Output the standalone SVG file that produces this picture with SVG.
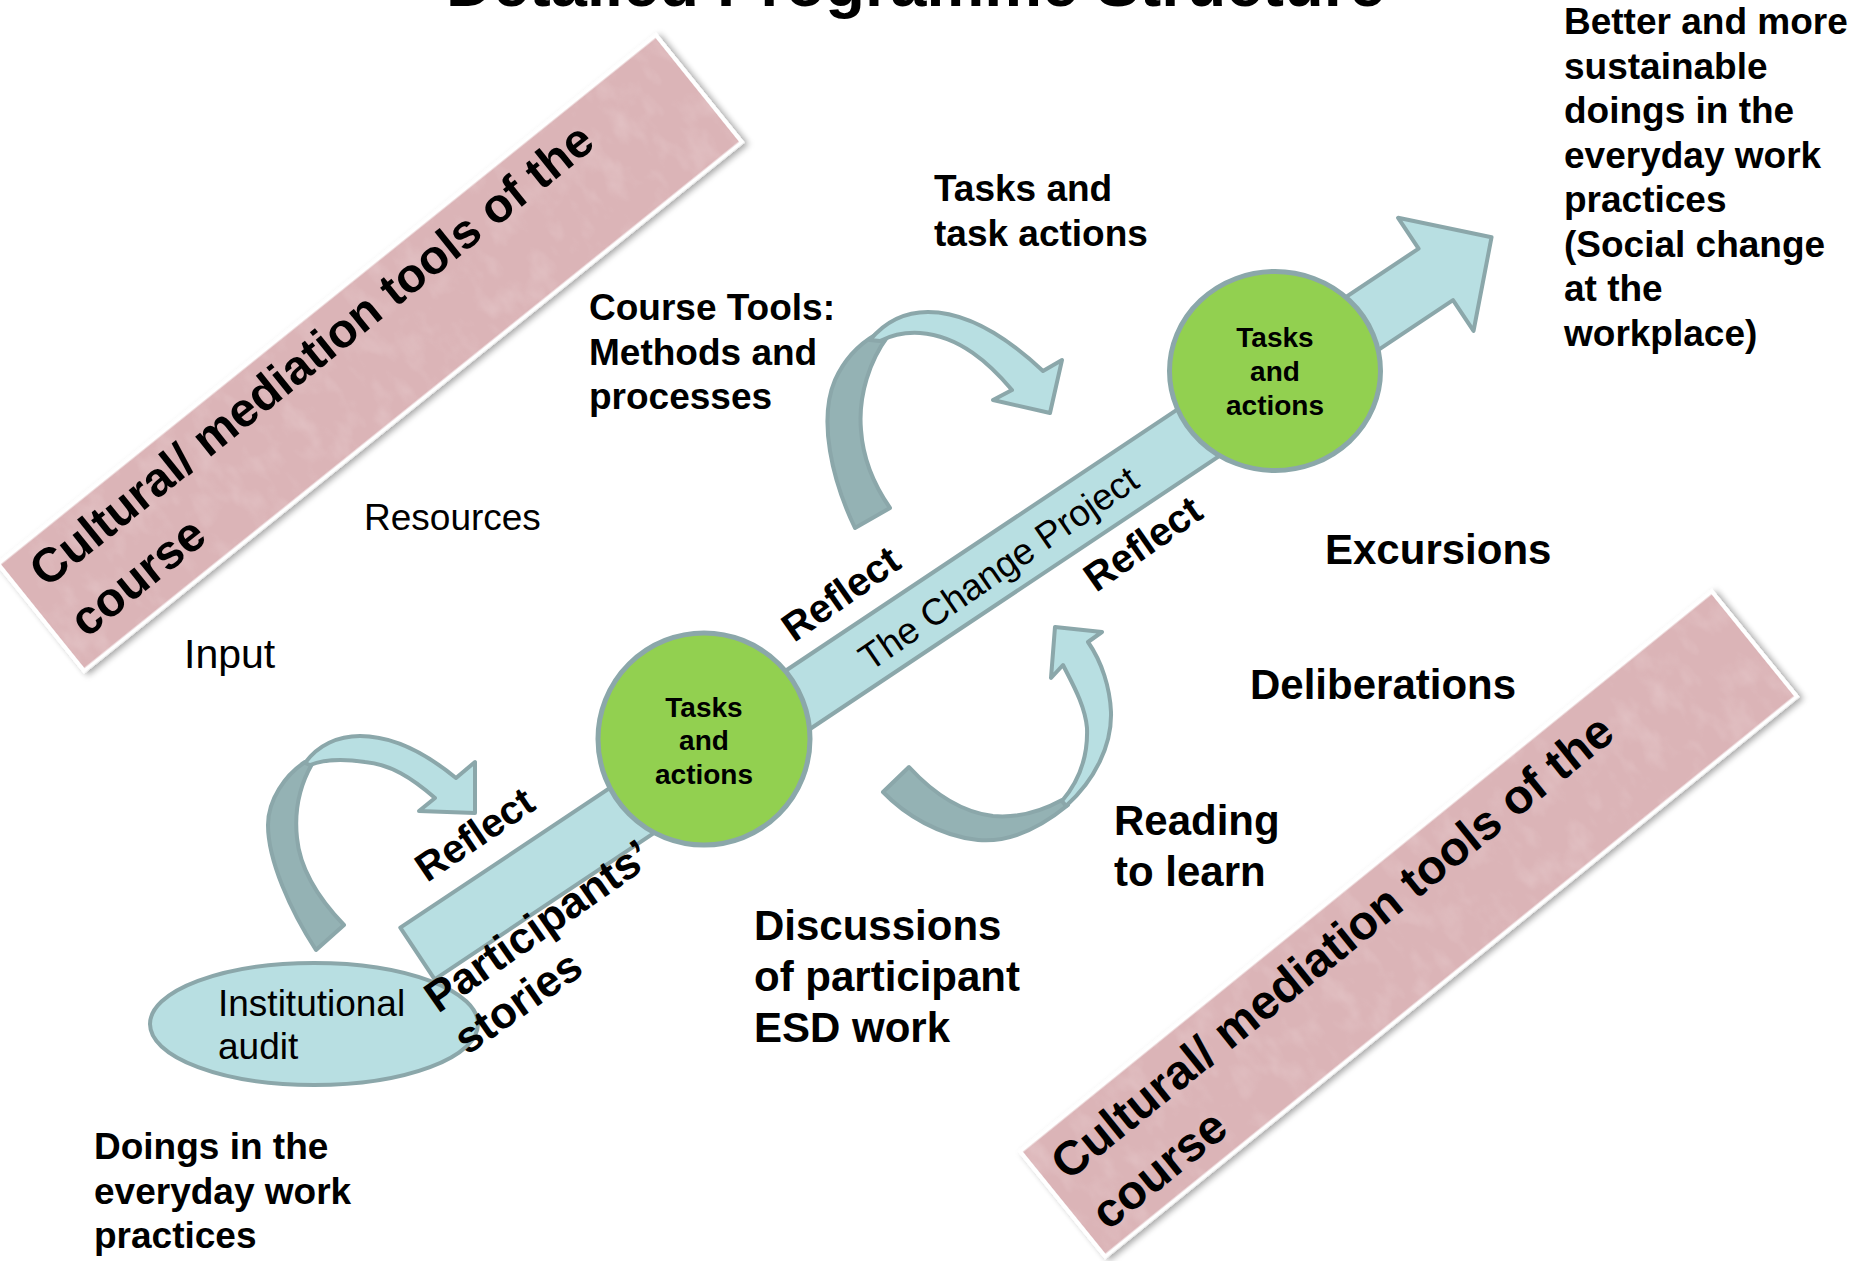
<svg xmlns="http://www.w3.org/2000/svg" width="1872" height="1261" viewBox="0 0 1872 1261">
  <defs>
    <style>
      .b{font-family:"Liberation Sans",Arial,Helvetica,sans-serif;font-weight:bold;fill:#000}
      .r{font-family:"Liberation Sans",Arial,Helvetica,sans-serif;fill:#000}
      .flow{fill:#b8dfe2;stroke:#8ba7aa;stroke-width:4;stroke-linejoin:round}
      .back{fill:#94b2b4;stroke:#8ba7aa;stroke-width:4;stroke-linejoin:round}
      .task{fill:#92d050;stroke:#8ba7aa;stroke-width:5}
      .band{fill:#dbb4b7;stroke:#ffffff;stroke-width:4}
    </style>
    <!-- soft shadow under the pink tool bands -->
    <filter id="shadow" x="-5%" y="-10%" width="110%" height="130%">
      <feDropShadow dx="2" dy="4" stdDeviation="3" flood-color="#000" flood-opacity="0.35"/>
    </filter>
    <!-- mottled tissue texture for the bands -->
    <filter id="grain" x="0" y="0" width="100%" height="100%">
      <feTurbulence type="fractalNoise" baseFrequency="0.045 0.03" numOctaves="3" seed="7" result="noise"/>
      <feColorMatrix in="noise" type="matrix" values="0 0 0 0 1  0 0 0 0 0.95  0 0 0 0 0.95  0 0 0 1.3 -0.6" result="spots"/>
      <feComposite in="spots" in2="SourceGraphic" operator="in"/>
    </filter>
  </defs>

  <!-- heading, mostly above the top edge -->
  <text class="b" x="446" y="6" font-size="65">Detailed Programme Structure</text>

  <!-- cultural / mediation tool bands -->
  <g id="band-tools-top" transform="translate(370,353) rotate(-38.8)">
    <rect class="band" x="-422" y="-68.5" width="844" height="137" filter="url(#shadow)"/>
    <rect x="-420" y="-66.5" width="840" height="133" fill="#fff" opacity="0.3" filter="url(#grain)"/>
    <text class="b" font-size="48"><tspan x="-400" y="-19">Cultural/ mediation tools of the</tspan><tspan x="-400" y="45">course</tspan></text>
  </g>
  <g id="band-tools-bottom" transform="translate(1408.5,924) rotate(-39)">
    <rect class="band" x="-445" y="-67.5" width="890" height="135" filter="url(#shadow)"/>
    <rect x="-443" y="-65.5" width="886" height="131" fill="#fff" opacity="0.3" filter="url(#grain)"/>
    <text class="b" font-size="48"><tspan x="-427" y="-14">Cultural/ mediation tools of the</tspan><tspan x="-427" y="50">course</tspan></text>
  </g>

  <!-- connectors: the change-project arrow and the reflection loops -->
  <g id="connectors">
    <polygon id="change-project-arrow" class="flow" transform="translate(417.5,953.5) rotate(-33.7)"
      points="0,-31 1224,-31 1224,-68 1291,0 1224,68 1224,31 0,31"/>

    <g id="loop-audit">
      <path class="back" d="M316,950 C290,910 268,860 268,825 C268,800 285,775 305,762 L312,764 C300,785 294,810 297,838 C300,870 320,900 344,925 Z"/>
      <path class="flow" d="M305,763 C318,745 338,736 360,736 C395,736 428,755 456,778 L475,762 L475,813 L419,811 L435,798 C412,778 390,764 365,762 C345,759 325,759 310,765 Z"/>
    </g>

    <g id="loop-tools">
      <path class="back" d="M855,528 C832,480 818,420 835,380 C845,358 858,345 875,335 L888,336 C870,360 858,395 861,430 C863,460 874,485 890,508 Z"/>
      <path class="flow" d="M870,340 C885,322 905,312 928,312 C970,312 1010,340 1043,371 L1062,360 L1050,413 L993,400 L1012,390 C990,364 960,336 920,333 C905,332 892,335 880,341 Z"/>
    </g>

    <g id="loop-reading">
      <path class="back" d="M883,792 C905,815 940,836 978,840 C1010,843 1040,828 1068,805 L1062,800 C1040,812 1015,818 993,816 C960,812 932,792 909,767 Z"/>
      <path class="flow" d="M1066,806 C1095,780 1112,745 1111,712 C1110,688 1102,662 1088,642 L1102,632 L1055,627 L1051,678 L1063,665 C1072,683 1085,705 1087,728 C1088,755 1080,780 1062,801 Z"/>
    </g>
  </g>

  <!-- nodes -->
  <g id="institutional-audit">
    <ellipse class="flow" cx="314" cy="1024" rx="164" ry="61"/>
    <text class="r" font-size="37"><tspan x="218" y="1016">Institutional</tspan><tspan x="218" y="1059">audit</tspan></text>
  </g>

  <g id="tasks-1">
    <ellipse class="task" cx="704" cy="739" rx="106" ry="106"/>
    <text class="b" font-size="28" text-anchor="middle"><tspan x="704" y="717">Tasks</tspan><tspan x="704" y="750">and</tspan><tspan x="704" y="784">actions</tspan></text>
  </g>

  <g id="tasks-2">
    <ellipse class="task" cx="1275" cy="371" rx="105.5" ry="99.5"/>
    <text class="b" font-size="28" text-anchor="middle"><tspan x="1275" y="347">Tasks</tspan><tspan x="1275" y="381">and</tspan><tspan x="1275" y="415">actions</tspan></text>
  </g>

  <!-- labels along the arrow -->
  <g id="arrow-labels">
    <text class="b" font-size="40" transform="translate(427,883) rotate(-34)">Reflect</text>
    <text class="b" font-size="40" transform="translate(794,643) rotate(-35)">Reflect</text>
    <text class="b" font-size="40" transform="translate(1096,593) rotate(-35)">Reflect</text>
    <text class="r" font-size="37" transform="translate(870,672) rotate(-34.5)">The Change Project</text>
    <text class="b" font-size="44" transform="translate(438,1014) rotate(-35)"><tspan x="0" y="0">Participants’</tspan><tspan x="0" y="51">stories</tspan></text>
  </g>

  <!-- free labels -->
  <g id="labels">
    <text class="b" font-size="37"><tspan x="934" y="201">Tasks and</tspan><tspan x="934" y="245.5">task actions</tspan></text>
    <text class="b" font-size="37"><tspan x="589" y="320">Course Tools:</tspan><tspan x="589" y="364.5">Methods and</tspan><tspan x="589" y="409">processes</tspan></text>
    <text class="b" font-size="37">
      <tspan x="1564" y="34">Better and more</tspan>
      <tspan x="1564" y="78.5">sustainable</tspan>
      <tspan x="1564" y="123">doings in the</tspan>
      <tspan x="1564" y="167.5">everyday work</tspan>
      <tspan x="1564" y="212">practices</tspan>
      <tspan x="1564" y="256.5">(Social change</tspan>
      <tspan x="1564" y="301">at the</tspan>
      <tspan x="1564" y="345.5">workplace)</tspan>
    </text>
    <text class="r" font-size="37" x="364" y="530">Resources</text>
    <text class="r" font-size="41" x="184" y="668">Input</text>
    <text class="b" font-size="42" x="1325" y="564">Excursions</text>
    <text class="b" font-size="42" x="1250" y="699">Deliberations</text>
    <text class="b" font-size="42"><tspan x="1114" y="835">Reading</tspan><tspan x="1114" y="886">to learn</tspan></text>
    <text class="b" font-size="42"><tspan x="754" y="940">Discussions</tspan><tspan x="754" y="991">of participant</tspan><tspan x="754" y="1042">ESD work</tspan></text>
    <text class="b" font-size="37"><tspan x="94" y="1159">Doings in the</tspan><tspan x="94" y="1203.5">everyday work</tspan><tspan x="94" y="1248">practices</tspan></text>
  </g>
</svg>
